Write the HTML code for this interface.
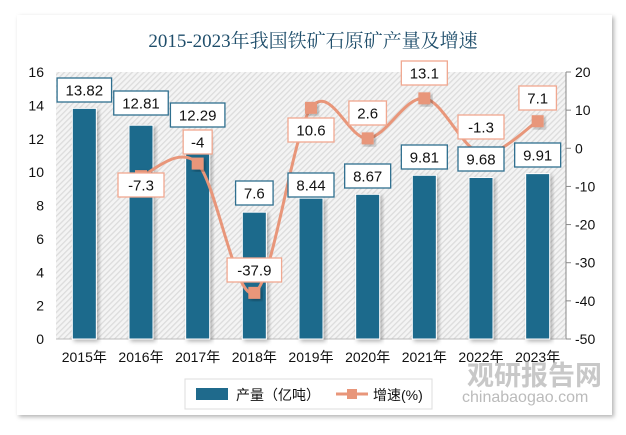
<!DOCTYPE html>
<html><head><meta charset="utf-8"><style>
html,body{margin:0;padding:0;background:#fff;}
svg{display:block;font-family:"Liberation Sans","Noto Sans CJK SC",sans-serif;}
</style></head><body>
<svg id="c" width="626" height="435" viewBox="0 0 626 435" xmlns="http://www.w3.org/2000/svg">
<defs>
<pattern id="h" width="4" height="4" patternUnits="userSpaceOnUse" patternTransform="rotate(45)">
<rect width="4" height="4" fill="#f4f4f4"/><rect width="1.3" height="4" fill="#dcdcdc"/>
</pattern>
<filter id="sh" x="-10%" y="-10%" width="130%" height="130%"><feDropShadow dx="2" dy="2" stdDeviation="2" flood-color="#000" flood-opacity="0.3"/></filter>
</defs>
<rect x="0" y="0" width="626" height="435" fill="#fff"/>
<rect x="17" y="15" width="595" height="400" fill="#fff" filter="url(#sh)"/>
<text x="313" y="47" text-anchor="middle" font-family="Liberation Serif,Noto Serif CJK SC,serif" font-size="19" fill="#1f4e6b">2015-2023年我国铁矿石原矿产量及增速</text>
<rect x="56" y="72" width="510" height="267" fill="url(#h)"/>
<g id="g"></g>
</svg>
<script>
(function(){
const g=document.getElementById('g');let s='';
const L=56,W=510/9,T=72,B=339;
const prod=[13.82,12.81,12.29,7.6,8.44,8.67,9.81,9.68,9.91];
const gr=[null,-7.3,-4,-37.9,10.6,2.6,13.1,-1.3,7.1];
const yl=v=>B-v*(267/16), yr=v=>T+(20-v)*(267/70);
for(let v=0;v<=16;v+=2)s+=`<text x="44" y="${yl(v)+5}" text-anchor="end" font-size="14" fill="#111">${v}</text>`;
for(let v=20;v>=-50;v-=10){s+=`<line x1="566" y1="${yr(v)}" x2="571" y2="${yr(v)}" stroke="#888"/><text x="575" y="${yr(v)+5}" font-size="14" fill="#111">${v}</text>`;}
s+=`<line x1="566" y1="72" x2="566" y2="339" stroke="#888"/><line x1="56" y1="339" x2="566" y2="339" stroke="#bbb"/>`;
const cx=i=>L+W/2+i*W;
prod.forEach((v,i)=>{const x=cx(i);s+=`<rect x="${x-12}" y="${yl(v)}" width="24" height="${B-yl(v)}" fill="#1f6a8c" stroke="#fff" stroke-width="1" filter="url(#sh)"/>`;
s+=`<text x="${x}" y="362" text-anchor="middle" font-size="14" fill="#111">${2015+i}年</text>`;});
const P=[];for(let i=1;i<9;i++)P.push([cx(i),yr(gr[i])]);
let d=`M${P[0][0]},${P[0][1]}`;
for(let i=0;i<P.length-1;i++){const p0=P[Math.max(i-1,0)],p1=P[i],p2=P[i+1],p3=P[Math.min(i+2,P.length-1)];
d+=` C${p1[0]+(p2[0]-p0[0])/6},${p1[1]+(p2[1]-p0[1])/6} ${p2[0]-(p3[0]-p1[0])/6},${p2[1]-(p3[1]-p1[1])/6} ${p2[0]},${p2[1]}`;}
s+=`<path d="${d}" fill="none" stroke="#e8967a" stroke-width="3"/>`;
P.forEach(p=>s+=`<rect x="${p[0]-6}" y="${p[1]-6}" width="12" height="12" fill="#e8967a" filter="url(#sh)"/>`);
function box(x,y,t,c){const w=t.length*8.5+12;s+=`<rect x="${x-w/2}" y="${y-12}" width="${w}" height="24" fill="#fff" stroke="${c}" stroke-width="1.3"/><text x="${x}" y="${y+5.5}" text-anchor="middle" font-size="15" fill="#111">${t}</text>`;}
const bl=[90,103,115,193,185,176,157,159,155];
prod.forEach((v,i)=>box(cx(i),bl[i],String(v),'#2f6f8f'));
const ll=[null,185,142,270,130,113,73,127,98];
gr.forEach((v,i)=>{if(v!==null)box(cx(i),ll[i],String(v),'#f0a890');});
s+=`<rect x="185" y="379" width="247" height="30" fill="#fff" stroke="#ddd"/>`;
s+=`<rect x="196" y="388" width="32" height="12" fill="#1f6a8c"/><text x="236" y="400" font-size="14" fill="#111">产量（亿吨）</text>`;
s+=`<line x1="336" y1="394" x2="368" y2="394" stroke="#e8967a" stroke-width="3"/><rect x="347" y="389" width="10" height="10" fill="#e8967a"/><text x="373" y="400" font-size="14" fill="#111">增速(%)</text>`;
s+=`<text x="467" y="385" font-size="27" font-weight="bold" fill="#bbb" opacity="0.8">观研报告网</text><text x="462" y="402" font-size="16" fill="#bbb">chinabaogao.com</text>`;
g.innerHTML=s;
})();
</script>
</body></html>
